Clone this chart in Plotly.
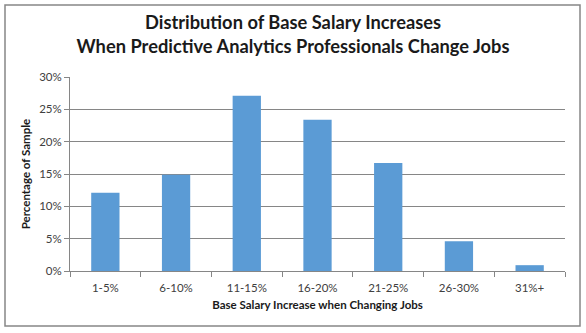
import plotly.graph_objects as go

categories = ["1-5%", "6-10%", "11-15%", "16-20%", "21-25%", "26-30%", "31%+"]
values = [0.121, 0.149, 0.271, 0.234, 0.167, 0.046, 0.009]
y_ticks = [0, 0.05, 0.10, 0.15, 0.20, 0.25, 0.30]
y_ticklabels = ["0%", "5%", "10%", "15%", "20%", "25%", "30%"]

fig = go.Figure(go.Bar(x=categories, y=values, marker=dict(color="#5B9BD5", line=dict(width=0))))

font_family = "Lato, 'Open Sans', sans-serif"
fig.update_layout(
    width=586, height=333,
    margin=dict(l=70, r=21, t=77, b=62),
    paper_bgcolor="white", plot_bgcolor="white",
    bargap=0.6,
    showlegend=False,
    font=dict(family=font_family, size=11, color="#404040"),
    title=dict(
        text="<b>Distribution of Base Salary Increases<br>When Predictive Analytics Professionals Change Jobs</b>",
        x=0.5, xanchor="center", y=0.913, yanchor="top",
        font=dict(size=18.3, color="#1a1a1a", family=font_family),
    ),
    xaxis=dict(
        showline=True, linecolor="#868686", linewidth=1,
        ticks="outside", tickson="boundaries", ticklen=5, tickcolor="#868686",
        ticklabelstandoff=6,
        title=dict(text="<b>Base Salary Increase when Changing Jobs</b>", font=dict(size=11.5, color="#1a1a1a"), standoff=8),
        tickfont=dict(size=11.5, color="#404040"),
    ),
    yaxis=dict(
        range=[0, 0.30], tickvals=y_ticks, ticktext=y_ticklabels,
        showgrid=True, gridcolor="#868686", gridwidth=1,
        showline=True, linecolor="#868686", linewidth=1,
        ticks="outside", ticklen=5, tickcolor="#868686",
        zeroline=False,
        title=dict(text="<b>Percentage of Sample</b>", font=dict(size=11.5, color="#1a1a1a"), standoff=6),
        tickfont=dict(size=11.5, color="#404040"),
    ),
)
# outer chart border
fig.add_shape(type="rect", xref="paper", yref="paper",
              x0=-65/495, x1=1 + 15/495, y0=-55/194, y1=1 + 72/194,
              line=dict(color="#868686", width=1.5), fillcolor="rgba(0,0,0,0)")

fig.write_html("out.html")
